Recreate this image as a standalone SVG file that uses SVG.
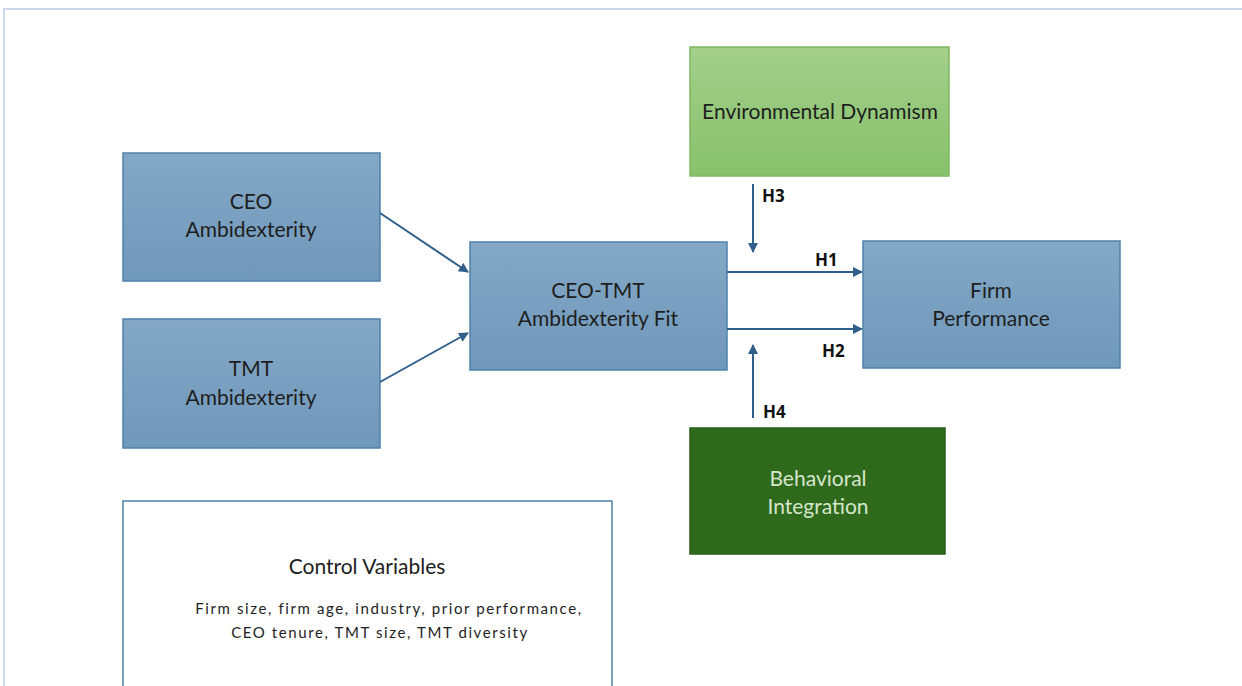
<svg xmlns="http://www.w3.org/2000/svg" width="1242" height="686" viewBox="0 0 1242 686">
<defs>
<marker id="ah" viewBox="0 0 10 10" refX="9" refY="5" markerWidth="5" markerHeight="5" orient="auto" markerUnits="strokeWidth">
<path d="M0,0 L10,5 L0,10 z" fill="#2f5f8a"/>
</marker>
<linearGradient id="blue" x1="0" y1="0" x2="0" y2="1">
<stop offset="0" stop-color="#84a8c6"/><stop offset="1" stop-color="#7098bb"/>
</linearGradient>
<linearGradient id="lgreen" x1="0" y1="0" x2="0" y2="1">
<stop offset="0" stop-color="#a3cf8b"/><stop offset="1" stop-color="#88c16b"/>
</linearGradient>
</defs>
<style>
.box{fill:url(#blue);stroke:#4f81aa;stroke-width:1.5}
.t{font-family:Lato,"Open Sans",sans-serif;font-size:21px;fill:#1e1e1e;text-anchor:middle}
.h{font-family:"Open Sans",sans-serif;font-size:17px;font-weight:bold;fill:#111}
.c{stroke:#2f5f8a;stroke-width:2;fill:none;marker-end:url(#ah)}
.s{font-size:15px;letter-spacing:1.6px}
</style>
<rect width="1242" height="686" fill="#fff"/>
<path d="M4,686 L4,9 L1242,9" fill="none" stroke="#b9cde3" stroke-width="1.5"/>
<g id="ceo"><rect class="box" x="123" y="153" width="257" height="128"/><text class="t" x="251" y="209">CEO</text><text class="t" x="251" y="237">Ambidexterity</text></g>
<g id="tmt"><rect class="box" x="123" y="319" width="257" height="129"/><text class="t" x="251" y="376">TMT</text><text class="t" x="251" y="405">Ambidexterity</text></g>
<g id="fit"><rect class="box" x="470" y="242" width="257" height="128"/><text class="t" x="598" y="298">CEO-TMT</text><text class="t" x="598" y="326">Ambidexterity Fit</text></g>
<g id="perf"><rect class="box" x="863" y="241" width="257" height="127"/><text class="t" x="991" y="298">Firm</text><text class="t" x="991" y="326">Performance</text></g>
<g id="env"><rect x="690" y="47" width="259" height="129" fill="url(#lgreen)" stroke="#7fb85f" stroke-width="1.5"/><text class="t" x="820" y="119">Environmental Dynamism</text></g>
<g id="bi"><rect x="690" y="428" width="255" height="126" fill="#2f6a1c" stroke="#2a5e18" stroke-width="1.5"/><text class="t" x="818" y="486" style="fill:#d6e6cc">Behavioral</text><text class="t" x="818" y="514" style="fill:#d6e6cc">Integration</text></g>
<g id="ctrl"><rect x="123" y="501" width="489" height="200" fill="#fff" stroke="#4f81aa" stroke-width="1.5"/><text class="t" x="367" y="574">Control Variables</text><text class="t s" x="389" y="614">Firm size, firm age, industry, prior performance,</text><text class="t s" x="380" y="638">CEO tenure, TMT size, TMT diversity</text></g>
<g id="connectors">
<line class="c" x1="380" y1="213" x2="468" y2="272"/>
<line class="c" x1="380" y1="382" x2="468" y2="333"/>
<line class="c" x1="727" y1="272" x2="862" y2="272"/>
<line class="c" x1="727" y1="329" x2="862" y2="329"/>
<line class="c" x1="753" y1="184" x2="753" y2="252"/>
<line class="c" x1="753" y1="418" x2="753" y2="345"/>
<text class="h" x="762" y="202">H3</text>
<text class="h" x="815" y="266">H1</text>
<text class="h" x="822" y="357">H2</text>
<text class="h" x="763" y="418">H4</text>
</g>
</svg>
